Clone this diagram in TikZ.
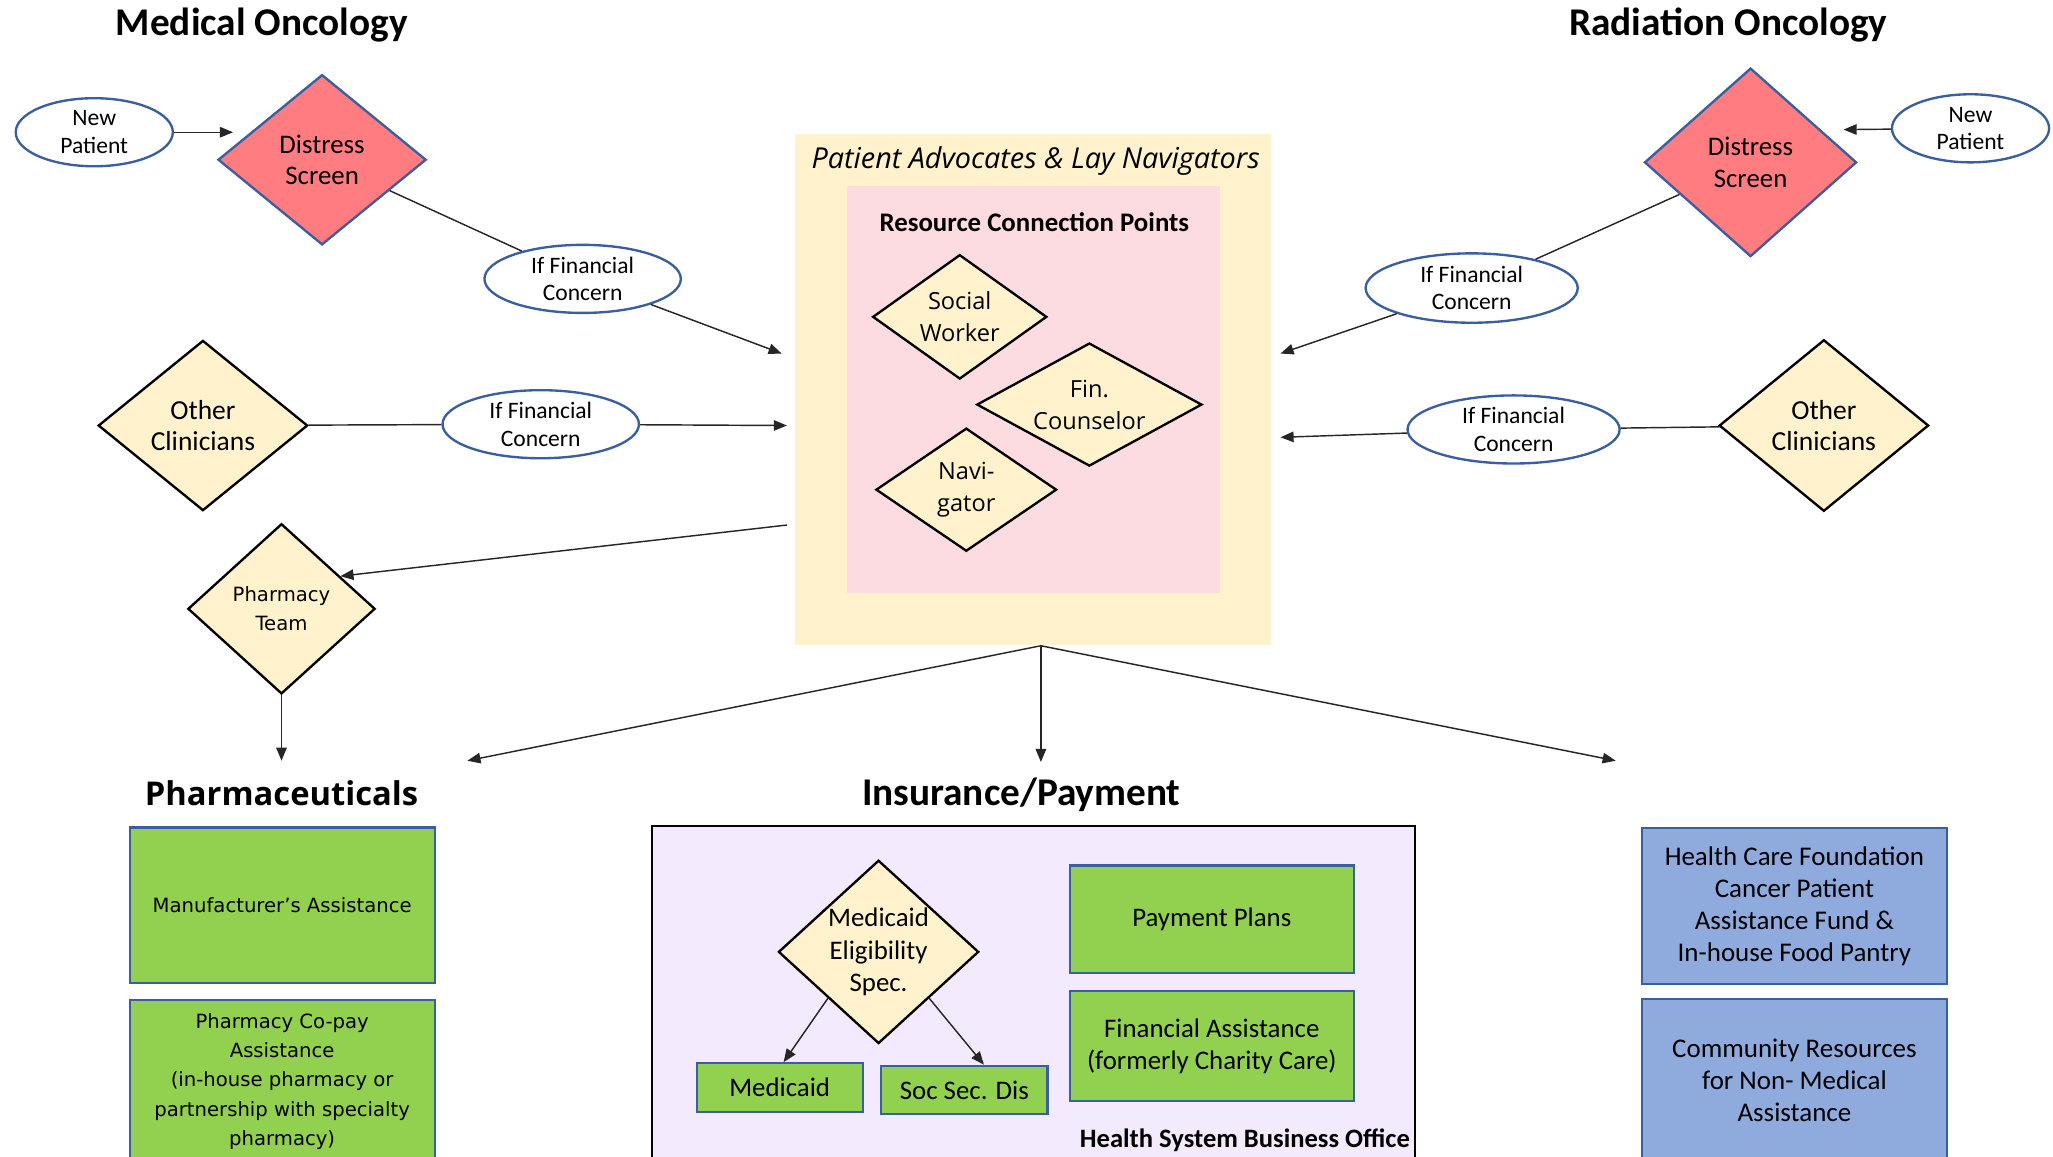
\documentclass[tikz,border=0pt]{standalone}
\usepackage{fontspec}
\setmainfont{Carlito}
\newfontfamily\seg{Open Sans}
\newfontfamily\verd{DejaVu Sans}
\usetikzlibrary{shapes.geometric,arrows.meta,calc}
\definecolor{salmon}{HTML}{FF7C80}
\definecolor{bluebd}{HTML}{3A5FA0}
\definecolor{paleyel}{HTML}{FFF2CC}
\definecolor{advy}{HTML}{FFF2CC}
\definecolor{rcpink}{HTML}{FCDCE0}
\definecolor{lav}{HTML}{F3EAFD}
\definecolor{grn}{HTML}{92D050}
\definecolor{blu}{HTML}{8FAADC}
\newcommand\myfs[2]{\fontsize{#1}{#2}\selectfont}
\begin{document}
\begin{tikzpicture}[x=1pt,y=-1pt,
  ell/.style={ellipse,draw=bluebd,line width=1.8pt,fill=white,minimum height=52,inner xsep=0pt,inner ysep=-3pt,align=center,font=\myfs{18}{21}},
  reddia/.style={diamond,draw=bluebd,line width=1.8pt,fill=salmon,inner sep=0pt,align=center,font=\myfs{20.5}{24}},
  yeldia/.style={diamond,draw=black,line width=1.8pt,fill=paleyel,inner sep=0pt,align=center,font=\myfs{21}{24}},
  grnbox/.style={rectangle,draw=bluebd,line width=1.6pt,fill=grn,inner sep=0pt,align=center,font=\myfs{20.5}{24}},
  blubox/.style={rectangle,draw=bluebd,line width=1.6pt,fill=blu,inner sep=0pt,align=center,font=\myfs{20.6}{24.4}},
  ln/.style={line width=1.1pt,draw=black!85},
  arr/.style={ln,-{Triangle[length=10pt,width=8pt]}},
  ttl/.style={font=\bfseries\myfs{30}{36},inner sep=0pt}
]
\path[use as bounding box] (0,0) rectangle (1568,883);

% titles
\node[ttl] (medt) at (200,19) {Medical Oncology};
\node[ttl] (radt) at (1320,19) {Radiation Oncology};
\node[font=\seg\bfseries\myfs{25}{30},inner sep=0pt] (pht) at (215,606) {Pharmaceuticals};
\node[ttl] (inst) at (780,607) {Insurance/Payment};

% central boxes
\node[fill=advy,minimum width=364,minimum height=391,inner sep=0pt] (pa) at (789,297.5) {};
\node[fill=rcpink,minimum width=285,minimum height=311,inner sep=0pt] (rc) at (789.5,297.5) {};
\node[font=\seg\itshape\myfs{22}{26},inner sep=0pt] (pat) at (791,123) {Patient Advocates \& Lay Navigators};
\node[font=\bfseries\myfs{20.5}{24},inner sep=0pt] (rct) at (790,170) {Resource Connection Points};
\node[yeldia,minimum width=133,minimum height=95,aspect=1.4,font=\seg\myfs{18}{24.5}] (sw) at (733,242) {Social\\Worker};
\node[yeldia,minimum width=172,minimum height=94,aspect=1.83,font=\seg\myfs{18}{24.5}] (fc) at (832,309) {Fin.\\Counselor};
\node[yeldia,minimum width=138,minimum height=94,aspect=1.47,font=\seg\myfs{18}{24.5}] (nav) at (738,374) {Navi-\\gator};

% left side
\node[ell,minimum width=120] (np1) at (72,101) {New\\Patient};
\node[reddia,minimum width=159,minimum height=130,aspect=1.22] (ds1) at (246,122) {Distress\\Screen};
\node[ell,minimum width=150] (ifc1) at (445,213) {If Financial\\Concern};
\node[yeldia,minimum width=160,minimum height=130,aspect=1.23] (ocl) at (155,325) {Other\\Clinicians};
\node[ell,minimum width=150] (ifc2) at (413,324) {If Financial\\Concern};
\node[yeldia,minimum width=143,minimum height=130,aspect=1.1,font=\verd\myfs{15}{22}] (pharm) at (215,465) {Pharmacy\\Team};

% right side
\node[ell,minimum width=120] (np2) at (1505,98) {New\\Patient};
\node[reddia,minimum width=162,minimum height=144,aspect=1.12] (ds2) at (1337,124) {Distress\\Screen};
\node[ell,minimum width=162,minimum height=53] (ifc3) at (1124,220) {If Financial\\Concern};
\node[yeldia,minimum width=160,minimum height=131,aspect=1.22] (ocr) at (1393,325) {Other\\Clinicians};
\node[ell,minimum width=162] (ifc4) at (1156,328) {If Financial\\Concern};

% pharmaceuticals
\node[grnbox,minimum width=233,minimum height=119,font=\verd\myfs{15}{22.5}] (manu) at (215.5,691.5) {Manufacturer’s Assistance};
\node[grnbox,minimum width=233,minimum height=124,font=\verd\myfs{15}{22.5}] (copay) at (215.5,826) {Pharmacy Co-pay\\Assistance\\(in-house pharmacy or\\partnership with specialty\\pharmacy)};

% insurance / payment
\node[draw=black,line width=1.6pt,fill=lav,minimum width=583,minimum height=260,inner sep=0pt] (hbo) at (789.5,761) {};
\node[yeldia,minimum width=153,minimum height=140,aspect=1.09,inner sep=-6pt,font=\myfs{20.5}{24.5}] (me) at (671,727) {Medicaid\\Eligibility\\Spec.};
\node[grnbox,minimum width=127,minimum height=37] (mcd) at (595.5,830.5) {Medicaid};
\node[grnbox,minimum width=127,minimum height=37] (ssd) at (736.5,832.5) {Soc Sec. Dis};
\node[grnbox,minimum width=217,minimum height=82] (pp) at (925.5,702) {Payment Plans};
\node[grnbox,minimum width=217,minimum height=84] (fa) at (925.5,799) {Financial Assistance\\(formerly Charity Care)};
\node[font=\bfseries\myfs{20.3}{24},anchor=east,inner sep=0pt] (hbot) at (1077,871) {Health System Business Office};

% other resources
\node[blubox,minimum width=233,minimum height=119] (hcf) at (1370.5,692) {Health Care Foundation\\Cancer Patient\\Assistance Fund \&\\In-house Food Pantry};
\node[blubox,minimum width=233,minimum height=124] (comm) at (1370.5,825) {Community Resources\\for Non- Medical\\Assistance};

% free ends
\coordinate (c0) at (178,101);
\coordinate (c1) at (597,270);
\coordinate (c2) at (601,325);
\coordinate (c3) at (601,401);
\coordinate (c4) at (215,581);
\coordinate (c5) at (357,581);
\coordinate (c6) at (795,582);
\coordinate (c7) at (1234,581);
\coordinate (c8) at (1408,99);
\coordinate (c9) at (978,270);
\coordinate (c10) at (978,334);

% connectors
\draw[arr] (np1) -- (c0);
\draw[ln] (ds1) -- (ifc1);
\draw[arr] (ifc1) -- (c1);
\draw[ln] (ocl) -- (ifc2);
\draw[arr] (ifc2) -- (c2);
\draw[arr] (c3) -- (pharm.29);
\draw[arr] (pharm.south) -- (c4);
\draw[arr] ([xshift=6pt]pa.south) -- (c5);
\draw[arr] ([xshift=6pt]pa.south) -- (c6);
\draw[arr] ([xshift=6pt]pa.south) -- (c7);
\draw[arr] (np2) -- (c8);
\draw[ln] (ds2) -- (ifc3);
\draw[arr] (ifc3) -- (c9);
\draw[ln] (ocr) -- (ifc4);
\draw[arr] (ifc4) -- (c10);
\draw[arr] (me.south west) -- ([xshift=3pt]mcd.north);
\draw[arr] (me.south east) -- ([xshift=15pt]ssd.north);
\end{tikzpicture}
\end{document}
